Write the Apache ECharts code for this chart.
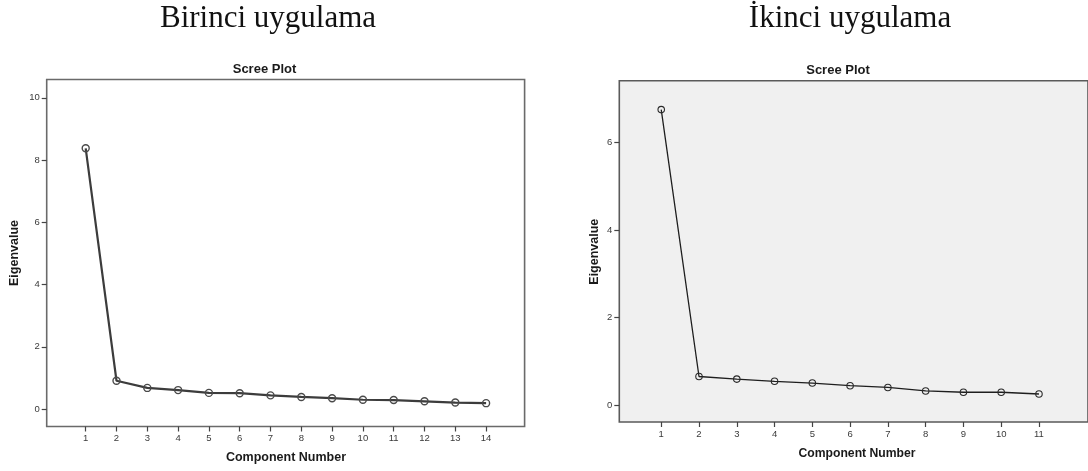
<!DOCTYPE html>
<html>
<head>
<meta charset="utf-8">
<script src="https://cdn.jsdelivr.net/npm/echarts@6/dist/echarts.min.js"></script>
<style>
  html, body { margin: 0; padding: 0; background: #ffffff; }
  #chart { width: 1088px; height: 471px; }
</style>
</head>
<body>
<div id="chart"></div>
<script>
// ---- data ----
const headings = ['Birinci uygulama', 'İkinci uygulama'];
const plotTitle = 'Scree Plot';
const xAxisTitle = 'Component Number';
const yAxisTitle = 'Eigenvalue';

const components1 = [1, 2, 3, 4, 5, 6, 7, 8, 9, 10, 11, 12, 13, 14];
const eigenvalues1 = [8.38, 0.91, 0.68, 0.61, 0.52, 0.51, 0.44, 0.39, 0.35, 0.30, 0.29, 0.25, 0.21, 0.19];
const yTicks1 = [0, 2, 4, 6, 8, 10];

const components2 = [1, 2, 3, 4, 5, 6, 7, 8, 9, 10, 11];
const eigenvalues2 = [6.75, 0.65, 0.59, 0.54, 0.50, 0.44, 0.40, 0.32, 0.29, 0.29, 0.25];
const yTicks2 = [0, 2, 4, 6];

// ---- chart ----
const chart = echarts.init(document.getElementById('chart'), null, { renderer: 'canvas' });

const pairs = (xs, ys) => xs.map((x, i) => [x, ys[i]]);
const sans = "Arial, 'Liberation Sans', sans-serif";
const serif = "'Times New Roman', 'Liberation Serif', serif";

function axisCfg(gridIndex, min, max, ticks) {
  return {
    type: 'value', gridIndex, min, max,
    splitLine: { show: false },
    axisLine: { show: false, onZero: false },
    axisTick: { show: true, customValues: ticks, length: 5, inside: false,
                lineStyle: { color: '#444', width: 1.2 } },
    axisLabel: { show: true, customValues: ticks, margin: 7, fontSize: 9.5,
                 fontFamily: sans, color: '#3a3a3a' }
  };
}

function txt(text, x, y, size, opts) {
  opts = opts || {};
  return {
    type: 'text', x, y, rotation: opts.rotation || 0, silent: true,
    style: {
      text, fontSize: size, fontFamily: opts.family || sans,
      fontWeight: opts.weight || 'bold', fill: opts.color || '#1a1a1a',
      align: 'center', verticalAlign: 'middle'
    }
  };
}

const option = {
  animation: false,
  backgroundColor: '#ffffff',
  grid: [
    { left: 46.7, top: 79.5, width: 477.9, height: 347, show: true,
      backgroundColor: '#ffffff', borderColor: '#6a6a6a', borderWidth: 1.6 },
    { left: 619.3, top: 80.7, width: 481.7, height: 341.3, show: true,
      backgroundColor: '#f0f0f0', borderColor: '#5a5a5a', borderWidth: 1.6 }
  ],
  xAxis: [
    axisCfg(0, -0.266, 15.25, components1),
    axisCfg(1, -0.11, 12.298, components2)
  ],
  yAxis: [
    axisCfg(0, -0.56, 10.59, yTicks1),
    axisCfg(1, -0.39, 7.41, yTicks2)
  ],
  series: [
    {
      type: 'line', xAxisIndex: 0, yAxisIndex: 0,
      data: pairs(components1, eigenvalues1),
      symbol: 'circle', symbolSize: 7, showSymbol: true,
      lineStyle: { color: '#3c3c3c', width: 2.2 },
      itemStyle: { color: 'rgba(0,0,0,0)', borderColor: '#4a4a4a', borderWidth: 1.4 }
    },
    {
      type: 'line', xAxisIndex: 1, yAxisIndex: 1,
      data: pairs(components2, eigenvalues2),
      symbol: 'circle', symbolSize: 6.5, showSymbol: true,
      lineStyle: { color: '#1e1e1e', width: 1.3 },
      itemStyle: { color: 'rgba(0,0,0,0)', borderColor: '#2a2a2a', borderWidth: 1.1 }
    }
  ],
  graphic: [
    txt(headings[0], 268, 19, 31, { family: serif, weight: 'normal', color: '#111' }),
    txt(headings[1], 850, 19, 31, { family: serif, weight: 'normal', color: '#111' }),
    txt(plotTitle, 264.5, 69.5, 13),
    txt(plotTitle, 838, 70.7, 13),
    txt(xAxisTitle, 286, 458, 12.5),
    txt(xAxisTitle, 857, 454, 12.2),
    txt(yAxisTitle, 14.6, 253, 12.5, { rotation: Math.PI / 2 }),
    txt(yAxisTitle, 594.3, 251.7, 12.5, { rotation: Math.PI / 2 })
  ]
};

chart.setOption(option);
</script>
</body>
</html>
